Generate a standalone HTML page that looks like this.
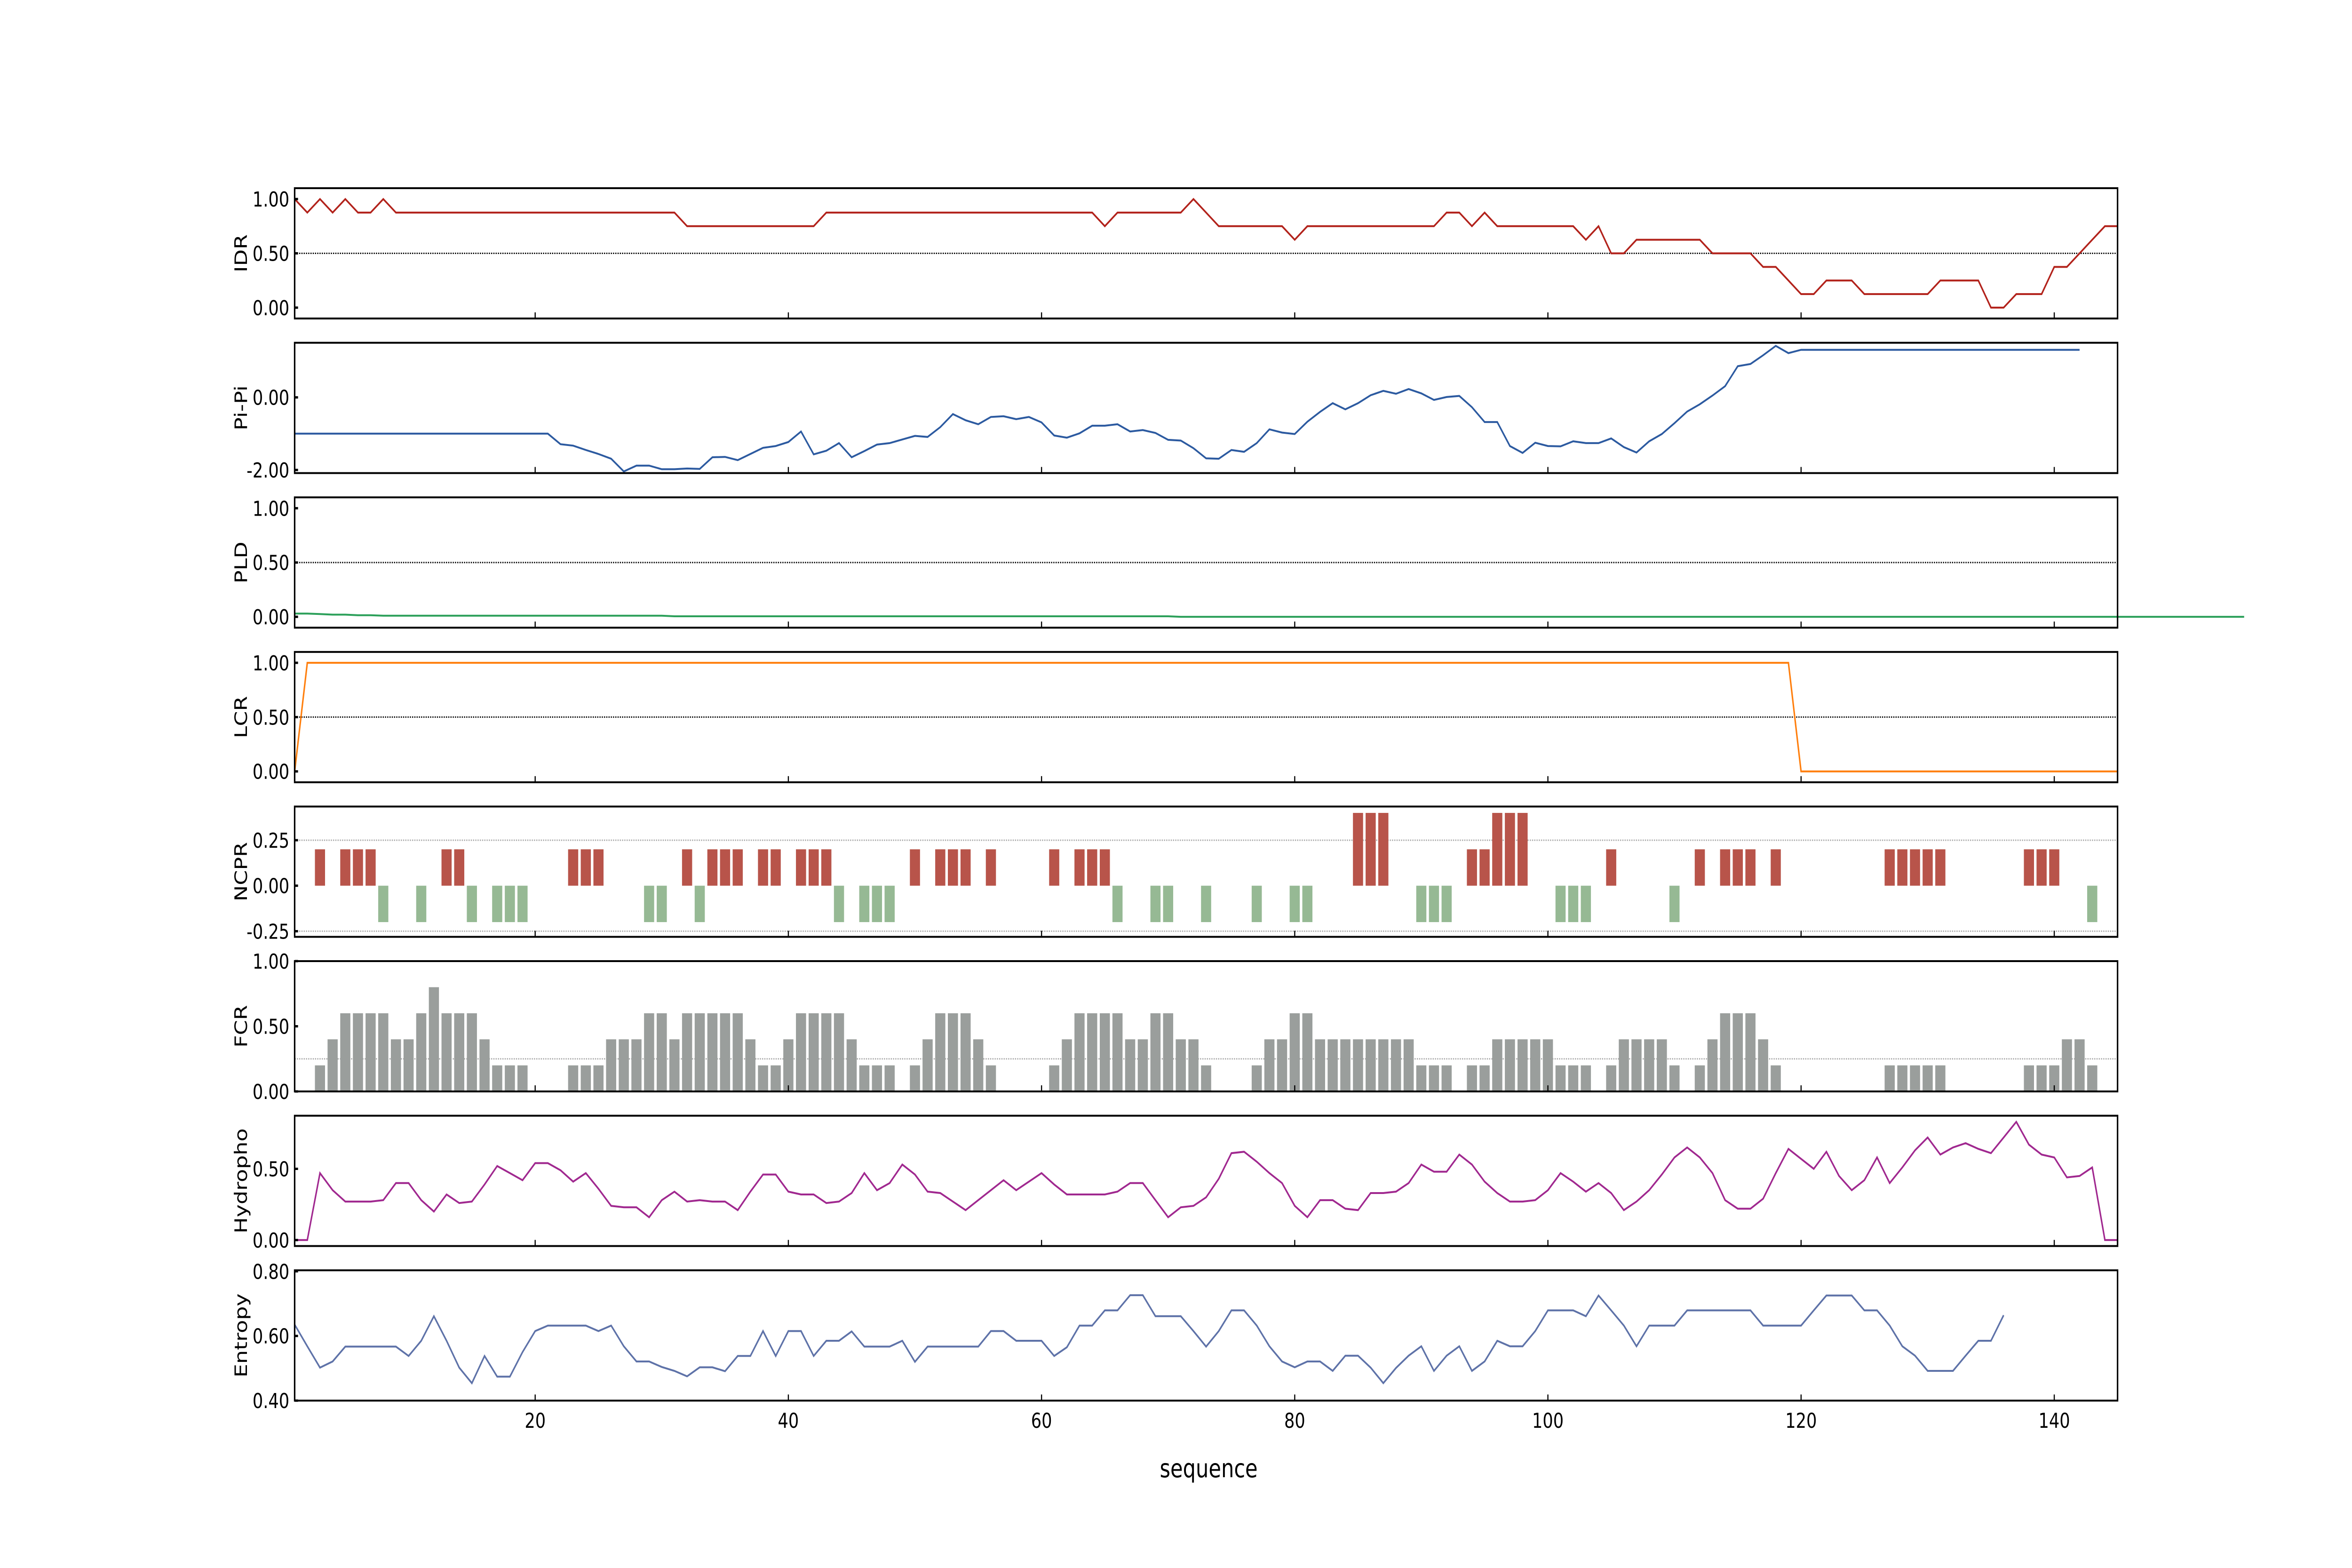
<!DOCTYPE html>
<html><head><meta charset="utf-8">
<style>
html,body{margin:0;padding:0;background:#fff;width:100%;height:100%;overflow:hidden;}
svg{display:block;width:100vw;height:100vh;}
text{font-family:"DejaVu Sans","Liberation Sans",sans-serif;fill:#000;}
</style></head>
<body>
<svg id="chart" xmlns="http://www.w3.org/2000/svg" viewBox="0 0 6250 3333" preserveAspectRatio="none">
<rect x="0" y="0" width="6250" height="3333" fill="#ffffff"/>
<text x="3212" y="3140" font-size="54" text-anchor="middle">sequence</text>
</svg>
<script>
const idrValues=[1,0.875,1,0.875,1,0.875,0.875,1,
0.875,0.875,0.875,0.875,0.875,0.875,0.875,0.875,0.875,0.875,0.875,0.875,0.875,0.875,0.875,0.875,0.875,0.875,0.875,0.875,0.875,0.875,0.875,
0.75,0.75,0.75,0.75,0.75,0.75,0.75,0.75,0.75,0.75,0.75,
0.875,0.875,0.875,0.875,0.875,0.875,0.875,0.875,0.875,0.875,0.875,0.875,0.875,0.875,0.875,0.875,0.875,0.875,0.875,0.875,0.875,0.875,
0.75,0.875,0.875,0.875,0.875,0.875,0.875,1,0.875,
0.75,0.75,0.75,0.75,0.75,0.75,0.625,
0.75,0.75,0.75,0.75,0.75,0.75,0.75,0.75,0.75,0.75,0.75,
0.875,0.875,0.75,0.875,0.75,0.75,0.75,0.75,0.75,0.75,0.75,
0.625,0.75,0.5,0.5,0.625,0.625,0.625,0.625,0.625,0.625,0.5,0.5,0.5,0.5,
0.375,0.375,0.25,0.125,0.125,0.25,0.25,0.25,0.125,0.125,0.125,0.125,0.125,0.125,
0.25,0.25,0.25,0.25,0,0,0.125,0.125,0.125,0.375,0.375,0.5,0.625,0.75,0.75];
const pipiValues=[-1,-1,-1,-1,-1,-1,-1,-1,-1,-1,-1,-1,-1,-1,-1,-1,-1,-1,-1,-1,-1,
-1.29,-1.33,-1.45,-1.56,-1.69,-2.04,-1.88,-1.88,-1.98,-1.98,-1.96,-1.97,-1.65,-1.64,-1.73,-1.56,-1.39,-1.34,-1.23,-0.94,
-1.57,-1.47,-1.26,-1.65,-1.48,-1.30,-1.26,-1.16,-1.06,-1.09,-0.82,-0.46,-0.63,-0.74,-0.54,-0.52,-0.60,-0.54,-0.69,
-1.05,-1.11,-0.99,-0.78,-0.78,-0.74,-0.94,-0.90,-0.98,-1.17,-1.19,-1.40,-1.68,-1.69,
-1.45,-1.5,-1.26,-0.88,-0.97,-1.01,-0.67,-0.40,-0.16,-0.33,-0.16,0.06,0.18,0.10,0.23,0.11,-0.07,0.01,0.04,-0.27,
-0.68,-0.68,-1.34,-1.53,-1.25,-1.34,-1.35,-1.21,-1.26,-1.26,-1.13,-1.37,-1.52,-1.21,-1.01,-0.71,-0.39,-0.19,0.05,0.31,
0.86,0.92,1.16,1.42,1.22,1.31,
1.31,1.31,1.31,1.31,1.31,1.31,1.31,1.31,1.31,1.31,1.31,1.31,1.31,1.31,1.31,1.31,1.31,1.31,1.31,1.31,1.31,1.31];
const pldValues=[0.03,0.03,0.025,0.02,0.02,0.015,0.015,0.01,0.01,0.01,
0.01,0.01,0.01,0.01,0.01,0.01,0.01,0.01,0.01,0.01,0.01,0.01,0.01,0.01,0.01,0.01,0.01,0.01,0.01,0.01,
0.005,0.005,0.005,0.005,0.005,0.005,0.005,0.005,0.005,0.005,0.005,0.005,0.005,0.005,0.005,0.005,0.005,0.005,0.005,0.005,
0.005,0.005,0.005,0.005,0.005,0.005,0.005,0.005,0.005,0.005,0.005,0.005,0.005,0.005,0.005,0.005,0.005,0.005,0.005,0.005,
0,0,0,0,0,0,0,0,0,0,0,0,0,0,0,0,0,0,0,0,0,0,0,0,0,0,0,0,0,0,0,0,0,0,0,0,0,0,0,0,
0,0,0,0,0,0,0,0,0,0,0,0,0,0,0,0,0,0,0,0,0,0,0,0,0,0,0,0,0,0,0,0,0,0,0,0,0,0,0,0,0,0,0,0,0];
const lcrValues=[0,
1,1,1,1,1,1,1,1,1,1,1,1,1,1,1,1,1,1,1,1,1,1,1,1,1,1,1,1,1,1,1,1,1,1,1,1,1,1,1,1,
1,1,1,1,1,1,1,1,1,1,1,1,1,1,1,1,1,1,1,1,1,1,1,1,1,1,1,1,1,1,1,1,1,1,1,1,1,1,1,1,
1,1,1,1,1,1,1,1,1,1,1,1,1,1,1,1,1,1,1,1,1,1,1,1,1,1,1,1,1,1,1,1,1,1,1,1,1,1,
0,0,0,0,0,0,0,0,0,0,0,0,0,0,0,0,0,0,0,0,0,0,0,0,0,0];
const ncprValues=[0,0,.2,0,.2,.2,.2,-.2,0,0,
-.2,0,.2,.2,-.2,0,-.2,-.2,-.2,0,
0,0,.2,.2,.2,0,0,0,-.2,-.2,
0,.2,-.2,.2,.2,.2,0,.2,.2,0,
.2,.2,.2,-.2,0,-.2,-.2,-.2,0,.2,
0,.2,.2,.2,0,.2,0,0,0,0,
.2,0,.2,.2,.2,-.2,0,0,-.2,-.2,
0,0,-.2,0,0,0,-.2,0,0,-.2,
-.2,0,0,0,.4,.4,.4,0,0,-.2,
-.2,-.2,0,.2,.2,.4,.4,.4,0,0,
-.2,-.2,-.2,0,.2,0,0,0,0,-.2,
0,.2,0,.2,.2,.2,0,.2,0,0,
0,0,0,0,0,0,.2,.2,.2,.2,
.2,0,0,0,0,0,0,.2,.2,.2,
0,0,-.2,0,0];
const fcrValues=[0,0,.2,.4,.6,.6,.6,.6,.4,.4,
.6,.8,.6,.6,.6,.4,.2,.2,.2,0,
0,0,.2,.2,.2,.4,.4,.4,.6,.6,
.4,.6,.6,.6,.6,.6,.4,.2,.2,.4,
.6,.6,.6,.6,.4,.2,.2,.2,0,.2,
.4,.6,.6,.6,.4,.2,0,0,0,0,
.2,.4,.6,.6,.6,.6,.4,.4,.6,.6,
.4,.4,.2,0,0,0,.2,.4,.4,.6,
.6,.4,.4,.4,.4,.4,.4,.4,.4,.2,
.2,.2,0,.2,.2,.4,.4,.4,.4,.4,
.2,.2,.2,0,.2,.4,.4,.4,.4,.2,
0,.2,.4,.6,.6,.6,.4,.2,0,0,
0,0,0,0,0,0,.2,.2,.2,.2,
.2,0,0,0,0,0,0,.2,.2,.2,
.4,.4,.2,0,0];
const hydroValues=[0,0,.47,.35,.27,.27,.27,.28,.40,.40,
.28,.20,.32,.26,.27,.39,.52,.47,.42,.54,
.54,.49,.41,.47,.36,.24,.23,.23,.16,.28,
.34,.27,.28,.27,.27,.21,.34,.46,.46,.34,
.32,.32,.26,.27,.33,.47,.35,.40,.53,.46,
.34,.33,.27,.21,.28,.35,.42,.35,.41,.47,
.39,.32,.32,.32,.32,.34,.40,.40,.28,.16,
.23,.24,.30,.43,.61,.62,.55,.47,.40,.24,
.16,.28,.28,.22,.21,.33,.33,.34,.40,.53,
.48,.48,.60,.53,.41,.33,.27,.27,.28,.35,
.47,.41,.34,.40,.33,.21,.27,.35,.46,.58,
.65,.58,.47,.28,.22,.22,.29,.47,.64,.57,
.50,.62,.45,.35,.42,.58,.40,.51,.63,.72,
.60,.65,.68,.64,.61,.72,.83,.67,.60,.58,
.44,.45,.51,0,0];
const entropyValues=[.635,.568,.502,.521,.567,.567,.567,.567,.567,.538,
.585,.661,.585,.502,.454,.538,.474,.474,.550,.615,
.632,.632,.632,.632,.615,.632,.568,.521,.521,.504,
.492,.475,.503,.503,.491,.538,.538,.615,.538,.615,
.615,.538,.585,.585,.614,.567,.567,.567,.585,.520,
.567,.567,.567,.567,.567,.615,.615,.585,.585,.585,
.538,.565,.632,.632,.679,.679,.726,.726,.661,.661,
.661,.615,.567,.615,.679,.679,.632,.568,.521,.503,
.521,.521,.492,.539,.539,.502,.454,.501,.539,.568,
.492,.539,.568,.492,.521,.585,.568,.568,.615,.679,
.679,.679,.661,.725,.679,.632,.568,.632,.632,.632,
.679,.679,.679,.679,.679,.679,.632,.632,.632,.632,
.679,.725,.725,.725,.679,.679,.632,.568,.539,.492,
.492,.492,.539,.585,.585,.664];
const xTickValues=[20,40,60,80,100,120,140];
const xTickLabels=["20","40","60","80","100","120","140"];

const NS="http://www.w3.org/2000/svg";
const svg=document.getElementById('chart');
const X0=783,X1=5627,XMIN=1,XMAX=145;
function xS(v){return X0+(v-XMIN)/(XMAX-XMIN)*(X1-X0);}
function mk(tag,attrs,parent){const e=document.createElementNS(NS,tag);for(const k in attrs)e.setAttribute(k,attrs[k]);(parent||svg).appendChild(e);return e;}

const panels=[
 {key:'idr',label:'IDR',data:idrValues,type:'line',color:'#b2221b',ymin:-0.1,ymax:1.1,ticks:[1,0.5,0],tl:["1.00","0.50","0.00"],grid:[0.5],gridColor:'#000'},
 {key:'pi-pi',label:'Pi-Pi',data:pipiValues,type:'line',color:'#2c5aa0',ymin:-2.086,ymax:1.505,ticks:[0,-2],tl:["0.00","-2.00"],grid:[],gridColor:'#000'},
 {key:'pld',label:'PLD',data:pldValues,type:'line',color:'#2ca05a',ymin:-0.1,ymax:1.1,ticks:[1,0.5,0],tl:["1.00","0.50","0.00"],grid:[0.5],gridColor:'#000'},
 {key:'lcr',label:'LCR',data:lcrValues,type:'line',color:'#ff7f0e',ymin:-0.1,ymax:1.1,ticks:[1,0.5,0],tl:["1.00","0.50","0.00"],grid:[0.5],gridColor:'#000'},
 {key:'ncpr',label:'NCPR',data:ncprValues,type:'ncpr',ymin:-0.281,ymax:0.435,ticks:[0.25,0,-0.25],tl:["0.25","0.00","-0.25"],grid:[0.25,-0.25],gridColor:'#aaa'},
 {key:'fcr',label:'FCR',data:fcrValues,type:'bar',color:'#9a9e9c',ymin:0,ymax:1,ticks:[1,0.5,0],tl:["1.00","0.50","0.00"],grid:[0.25],gridColor:'#aaa'},
 {key:'hydropho',label:'Hydropho',data:hydroValues,type:'line',color:'#a0288f',ymin:-0.042,ymax:0.873,ticks:[0.5,0],tl:["0.50","0.00"],grid:[],gridColor:'#000'},
 {key:'entropy',label:'Entropy',data:entropyValues,type:'line',color:'#5e72a8',ymin:0.40,ymax:0.803,ticks:[0.8,0.6,0.4],tl:["0.80","0.60","0.40"],grid:[],gridColor:'#000'}
];
const PTOP=400,PSTEP=328.6,PH=277;
panels.forEach((p,k)=>{
  const top=PTOP+k*PSTEP,bot=top+PH;
  const yS=v=>bot-(v-p.ymin)/(p.ymax-p.ymin)*PH;
  const g=mk('g',{});
  
  
  p.grid.forEach(gv=>{
    const l=mk('line',{x1:X0,x2:X1,y1:yS(gv),y2:yS(gv),stroke:p.gridColor,'stroke-width':3,'stroke-dasharray':'3,3'},g);
    
    
  });
  if(p.type==='line'){
    const pts=p.data.map((v,i)=>xS(i+1).toFixed(1)+','+yS(v).toFixed(1)).join(' ');
    const pl=mk('polyline',{points:pts,fill:'none',stroke:p.color,'stroke-width':4,'stroke-linejoin':'miter'},g);
    
    
  } else {
    const bw=(X1-X0)/(XMAX-XMIN)*0.8;
    p.data.forEach((v,i)=>{
      if(v===0)return;
      const col=p.type==='ncpr'?(v>0?'#b8544a':'#96b994'):p.color;
      const y0=yS(0),y1=yS(v);
      const r=mk('rect',{x:xS(i+1)-bw/2,y:Math.min(y0,y1),width:bw,height:Math.abs(y1-y0),fill:col},g);
      
      
    });
  }
  const frame=mk('rect',{x:X0,y:top,width:X1-X0,height:PH,fill:'none',stroke:'#000','stroke-width':4},g);
  
  
  p.ticks.forEach((tv,j)=>{
    const y=yS(tv);
    const tk=mk('line',{x1:X0,x2:X0+9,y1:y,y2:y,stroke:'#000','stroke-width':5},g);
    
    
    const t=mk('text',{x:X0-14,y:y+16,'font-size':44,'text-anchor':'end'},g);
    t.textContent=p.tl[j];
    
    
  });
  xTickValues.forEach((xv,j)=>{
    const x=xS(xv);
    const tk=mk('line',{x1:x,x2:x,y1:bot,y2:bot-13,stroke:'#000','stroke-width':3},g);
    
    
    if(k===panels.length-1){
      const t=mk('text',{x:x,y:bot+58,'font-size':44,'text-anchor':'middle'},g);
      t.textContent=xTickLabels[j];
      
      
    }
  });
  const cy=(top+bot)/2;
  const yl=mk('text',{x:0,y:0,'font-size':46,'text-anchor':'middle',transform:'translate(656,'+cy+') rotate(-90)'},g);
  yl.textContent=p.label;
  
  
});
</script>
</body></html>
